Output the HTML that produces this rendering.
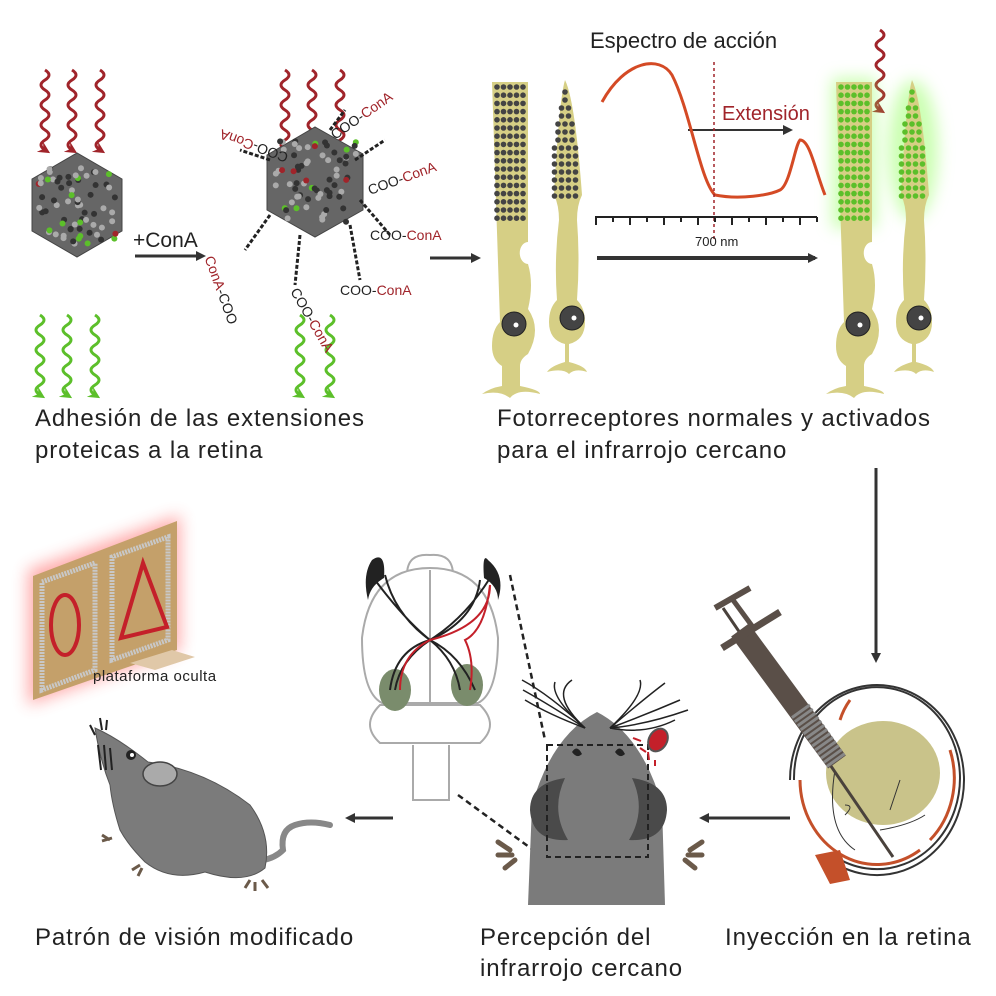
<!DOCTYPE html>
<html><head><meta charset="utf-8"><style>
body{margin:0;background:#fff}
svg{display:block}
text{font-family:"Liberation Sans",sans-serif}
.big{font-size:24px;letter-spacing:0.9px;fill:#222}
</style></head><body>
<svg id="s" width="996" height="996" viewBox="0 0 996 996" xmlns="http://www.w3.org/2000/svg">
<defs>
<marker id="ah" markerWidth="10" markerHeight="10" refX="7" refY="5" orient="auto" markerUnits="userSpaceOnUse"><path d="M0,0 L10,5 L0,10 Z" fill="#333"/></marker>
<marker id="rh" markerWidth="12" markerHeight="12" refX="6" refY="6" orient="auto" markerUnits="userSpaceOnUse"><path d="M0,0 L12,6 L0,12 L4,6Z" fill="#a0242a"/></marker>
<marker id="gh" markerWidth="12" markerHeight="12" refX="6" refY="6" orient="auto" markerUnits="userSpaceOnUse"><path d="M0,0 L12,6 L0,12 L4,6Z" fill="#5cbf2a"/></marker>
<filter id="glow" x="-50%" y="-50%" width="200%" height="200%"><feGaussianBlur stdDeviation="8"/></filter>
</defs>
<g id="g"></g>
<text x="590" y="48" font-size="22" fill="#222">Espectro de acción</text>
<text x="722" y="120" font-size="20" fill="#a0242a">Extensión</text>
<text x="695" y="246" font-size="13" fill="#222">700 nm</text>
<text x="35" y="426" class="big">Adhesión de las extensiones</text>
<text x="35" y="458" class="big">proteicas a la retina</text>
<text x="497" y="426" class="big">Fotorreceptores normales y activados</text>
<text x="497" y="458" class="big">para el infrarrojo cercano</text>
<text x="35" y="945" class="big">Patrón de visión modificado</text>
<text x="480" y="945" class="big">Percepción del</text>
<text x="480" y="976" class="big">infrarrojo cercano</text>
<text x="725" y="945" class="big">Inyección en la retina</text>
<text x="133" y="247" font-size="21" fill="#222">+ConA</text>
<text x="370" y="240" font-size="14" fill="#a0242a"><tspan fill="#222">COO-</tspan>ConA</text>
<text x="370" y="195" font-size="14" fill="#a0242a" transform="rotate(-20 370 195)"><tspan fill="#222">COO-</tspan>ConA</text>
<text x="340" y="295" font-size="14" fill="#a0242a"><tspan fill="#222">COO-</tspan>ConA</text>
<text x="335" y="140" font-size="14" fill="#a0242a" transform="rotate(-35 335 140)"><tspan fill="#222">COO-</tspan>ConA</text>
<text x="212" y="160" font-size="14" fill="#a0242a" transform="rotate(200 250 150)"><tspan fill="#222">COO-</tspan>ConA</text>
<text x="210" y="290" font-size="14" fill="#a0242a" transform="rotate(70 230 270)">ConA<tspan fill="#222">-COO</tspan></text>
<text x="285" y="300" font-size="14" fill="#a0242a" transform="rotate(60 295 300)"><tspan fill="#222">COO-</tspan>ConA</text>
</svg>
<script>
const g=document.getElementById('g');let h='';
function wave(x,y1,y2,col,m){let d=`M${x},${y1}`;for(let y=y1;y<y2;y+=20){d+=` q8,5 0,10 q-8,5 0,10`;}h+=`<path d="${d}" fill="none" stroke="${col}" stroke-width="3" marker-end="url(#${m})"/>`;}
[45,72,100].forEach(x=>{wave(x,70,145,'#a0242a','rh');wave(x-5,315,385,'#5cbf2a','gh');});
[285,312,340].forEach(x=>wave(x,70,145,'#a0242a','rh'));
[300,330].forEach(x=>wave(x,315,385,'#5cbf2a','gh'));
wave(880,30,100,'#a0242a','rh');
function np(cx,cy,r){let p=[];for(let i=0;i<6;i++){let a=Math.PI/3*i+Math.PI/6;p.push((cx+r*Math.cos(a)).toFixed(0)+','+(cy+r*Math.sin(a)).toFixed(0));}
h+=`<polygon points="${p.join(' ')}" fill="#666" stroke="#444"/>`;
for(let i=0;i<70;i++){let x=cx+(Math.random()-.5)*r*1.5,y=cy+(Math.random()-.5)*r*1.5;let c=Math.random()<.1?'#5cbf2a':Math.random()<.05?'#a0242a':(Math.random()<.5?'#aaa':'#333');h+=`<circle cx="${x}" cy="${y}" r="3" fill="${c}"/>`;}}
np(77,205,52);np(315,182,55);
[[360,200,390,235],[355,160,385,140],[350,225,360,280],[330,130,345,110],[270,160,240,150],[270,215,245,250],[300,235,295,285]].forEach(a=>h+=`<line x1="${a[0]}" y1="${a[1]}" x2="${a[2]}" y2="${a[3]}" stroke="#222" stroke-width="3" stroke-dasharray="4 2"/>`);
function arr(x1,y1,x2,y2,w){h+=`<line x1="${x1}" y1="${y1}" x2="${x2}" y2="${y2}" stroke="#333" stroke-width="${w||3}" marker-end="url(#ah)"/>`;}
arr(135,256,203,256);arr(430,258,478,258);arr(597,258,815,258,4);arr(876,468,876,660);arr(790,818,702,818);arr(393,818,348,818);arr(688,130,790,130,2);
function rod(x,dot,gl){const c='#d6cf85';
if(gl)h+=`<rect x="${x-4}" y="78" width="44" height="150" fill="#9f6" opacity=".5" filter="url(#glow)"/>`;
h+=`<path d="M${x},82 h36 v160 a6,8 0 0 0 0,22 q6,20 0,45 q14,20 0,45 q-8,5 -8,12 v20 q20,4 20,8 q-22,-6 -30,4 q-10,-8 -28,-4 q8,-6 20,-8 v-20 q-10,-6 -10,-20 q0,-16 8,-24 z" fill="${c}"/>`;
for(let r=0;r<17;r++)for(let k=0;k<5;k++)h+=`<circle cx="${x+5+k*6.5}" cy="${87+r*8.2}" r="2.8" fill="${dot}"/>`;
h+=`<circle cx="${x+22}" cy="324" r="12" fill="#444" stroke="#222"/><circle cx="${x+24}" cy="325" r="2.5" fill="#fff"/>`;}
function cone(x,dot,gl){const c='#d6cf85';
if(gl)h+=`<ellipse cx="${x+18}" cy="150" rx="25" ry="70" fill="#9f6" opacity=".5" filter="url(#glow)"/>`;
h+=`<path d="M${x+17},80 q10,20 17,115 q-5,10 -5,25 q3,40 0,80 q8,8 8,22 q0,18 -16,22 v18 q16,4 18,10 q-12,-4 -18,2 q-6,-6 -22,-2 q4,-6 18,-10 v-18 q-16,-4 -16,-22 q0,-14 8,-22 q-3,-40 2,-80 q0,-15 -5,-25 q5,-95 11,-115z" fill="${c}"/>`;
for(let r=0;r<14;r++){let n=r<2?1:r<4?2:r<7?3:4;for(let k=0;k<n;k++)h+=`<circle cx="${x+17+(k-(n-1)/2)*7}" cy="${92+r*8}" r="2.8" fill="${dot}"/>`;}
h+=`<circle cx="${x+24}" cy="318" r="12" fill="#444" stroke="#222"/><circle cx="${x+26}" cy="318" r="2.5" fill="#fff"/>`;}
rod(492,'#444');cone(548,'#444');rod(836,'#5cbf2a',1);cone(895,'#5cbf2a',1);
h+=`<path d="M602,102 C625,60 660,55 672,75 C690,110 700,180 715,195 C740,200 770,195 780,190 C790,185 795,145 800,140 C810,140 815,170 825,195" fill="none" stroke="#d44a25" stroke-width="3"/>`;
h+=`<line x1="714" y1="62" x2="714" y2="240" stroke="#a0242a" stroke-width="1.5" stroke-dasharray="3 3"/>`;
h+=`<line x1="595" y1="217" x2="817" y2="217" stroke="#222" stroke-width="2"/>`;
for(let i=0;i<14;i++)h+=`<line x1="${596+i*17}" y1="217" x2="${596+i*17}" y2="${i%2?222:225}" stroke="#222" stroke-width="2"/>`;
// board
h+=`<polygon points="28,705 28,570 180,515 180,650" fill="#f44" opacity=".45" filter="url(#glow)"/>`;
h+=`<polygon points="33,700 33,576 177,521 177,650" fill="#c4a06a"/>`;
h+=`<polygon points="42,690 42,582 95,563 95,670" fill="none" stroke="#c8c8c8" stroke-width="5" stroke-dasharray="2 1"/>`;
h+=`<polygon points="112,660 112,557 168,537 168,640" fill="none" stroke="#c8c8c8" stroke-width="5" stroke-dasharray="2 1"/>`;
h+=`<polygon points="130,663 172,650 195,657 155,670" fill="#e0c8a8"/>`;
h+=`<ellipse cx="65" cy="625" rx="14" ry="30" fill="none" stroke="#c4202a" stroke-width="4"/>`;
h+=`<polygon points="143,563 167,627 121,638" fill="none" stroke="#c4202a" stroke-width="4"/>`;
h+=`<text x="93" y="681" font-size="15" fill="#222" letter-spacing=".5">plataforma oculta</text>`;
// mouse
h+=`<path d="M330,825 q-20,-5 -35,0 q-15,5 -12,25 q-8,8 -20,10" fill="none" stroke="#888" stroke-width="6" stroke-linecap="round"/>`;
h+=`<path d="M95,728 Q118,738 148,762 Q205,770 250,805 Q272,835 265,868 Q245,885 205,872 Q170,882 145,862 Q128,845 120,830 Q112,805 110,785 Q100,760 95,728 Z" fill="#7b7b7b" stroke="#555"/>`;
h+=`<ellipse cx="160" cy="774" rx="17" ry="12" fill="#aaa" stroke="#444" stroke-width="1.5"/>`;
h+=`<circle cx="131" cy="755" r="5" fill="#222"/><circle cx="132" cy="755" r="2" fill="#fff"/>`;
h+=`<path d="M90,725 l5,10 M100,718 l2,12 M107,720 l-1,10 M98,745 l3,25 M104,745 l2,25 M110,748 l2,22" stroke="#222" stroke-width="2"/>`;
h+=`<path d="M110,840 l-8,-5 M112,838 l-10,3 M140,865 l-8,5 M142,868 l-4,8 M250,880 l-5,8 M255,882 l0,9 M262,880 l6,8" stroke="#6b5a4a" stroke-width="3"/>`;
// brain
h+=`<path d="M407,575 q0,-22 23,-20 q23,-2 23,20 z" fill="#fff" stroke="#aaa" stroke-width="2"/>`;
h+=`<path d="M430,568 q-60,0 -68,70 q0,55 20,65 h96 q20,-10 20,-65 q-8,-70 -68,-70z" fill="#fff" stroke="#aaa" stroke-width="2"/>`;
h+=`<path d="M380,705 q-20,20 0,38 h100 q20,-18 0,-38z" fill="#fff" stroke="#aaa" stroke-width="2"/>`;
h+=`<path d="M413,745 v55 h36 v-55" fill="#fff" stroke="#aaa" stroke-width="2"/>`;
h+=`<line x1="430" y1="570" x2="430" y2="703" stroke="#aaa" stroke-width="2"/>`;
h+=`<ellipse cx="395" cy="690" rx="16" ry="21" fill="#7a8c6c"/><ellipse cx="467" cy="685" rx="16" ry="21" fill="#7a8c6c"/>`;
h+=`<path d="M375,580 q30,40 55,60 q25,20 30,50 M385,575 q10,40 45,65 q-35,10 -40,50 M490,578 q-25,40 -60,62 q-30,20 -35,50 M480,580 q-5,40 -50,60 q30,15 45,50" fill="none" stroke="#222" stroke-width="2"/>`;
h+=`<path d="M490,585 q0,40 -60,55 q-30,15 -30,50 M490,585 q-5,45 -25,55 q10,20 5,50" fill="none" stroke="#c4202a" stroke-width="2"/>`;
h+=`<path d="M372,560 q14,-10 12,18 q-14,8 -16,22 q-6,-25 4,-40z M488,560 q-6,-8 -4,18 q14,8 14,22 q8,-25 -10,-40z" fill="#222"/>`;
h+=`<line x1="510" y1="575" x2="545" y2="740" stroke="#222" stroke-width="2.5" stroke-dasharray="6 4"/><line x1="458" y1="795" x2="540" y2="855" stroke="#222" stroke-width="2.5" stroke-dasharray="6 4"/>`;
// mouse head
h+=`<path d="M510,850 l-12,-8 M512,855 l-14,0 M515,860 l-10,8 M690,850 l12,-8 M688,855 l14,0 M685,860 l10,8" stroke="#6b5a4a" stroke-width="5" stroke-linecap="round"/>`;
h+=`<path d="M528,905 l4,-100 q20,-70 65,-93 q45,23 65,93 l3,100z" fill="#7b7b7b"/>`;
h+=`<path d="M565,778 q-35,5 -35,32 q2,32 38,30 q-18,-30 -3,-62z M632,778 q35,5 35,32 q-2,32 -38,30 q18,-30 3,-62z" fill="#4a4a4a"/>`;
h+=`<rect x="547" y="745" width="101" height="112" fill="none" stroke="#222" stroke-width="2" stroke-dasharray="6 4"/>`;
h+=`<path d="M572,752 q5,-8 10,2 q-5,5 -10,-2zM615,752 q5,-8 10,2 q-5,5 -10,-2z" fill="#222"/>`;
[[522,680],[523,690],[525,700],[555,682],[572,680]].forEach(p=>h+=`<path d="M585,728 Q550,${p[1]+15} ${p[0]},${p[1]}" fill="none" stroke="#222" stroke-width="1.5"/>`);
[[640,680],[665,683],[680,700],[675,720],[688,710]].forEach(p=>h+=`<path d="M610,728 Q645,${p[1]+15} ${p[0]},${p[1]}" fill="none" stroke="#222" stroke-width="1.5"/>`);
h+=`<ellipse cx="658" cy="740" rx="9" ry="12" fill="#c4202a" stroke="#555" stroke-width="2" transform="rotate(30 658 740)"/>`;
h+=`<path d="M633,738 l8,3 M640,748 l6,4 M648,752 l1,8 M655,760 l0,6" stroke="#c4202a" stroke-width="2"/>`;
// eye
h+=`<path d="M790,780 a87,95 0 1 1 40,80 M794,780 a83,91 0 1 1 40,76" fill="none" stroke="#333" stroke-width="2"/>`;
h+=`<path d="M800,780 a77,85 0 0 0 120,70 M840,720 a70,70 0 0 1 10,-20 M950,750 a77,85 0 0 1 -20,90" fill="none" stroke="#c4502a" stroke-width="3"/>`;
h+=`<ellipse cx="883" cy="773" rx="57" ry="52" fill="#c9c38a"/>`;
h+=`<path d="M815,855 l25,-5 l10,30 l-20,4z" fill="#c4502a"/>`;
h+=`<path d="M835,770 q-10,60 20,80 M845,805 q10,0 0,10 M890,810 l10,-30 M880,830 q30,-5 45,-15" fill="none" stroke="#333" stroke-width="1"/>`;
h+=`<line x1="723" y1="608" x2="893" y2="857" stroke="#4a423c" stroke-width="3"/>`;
h+=`<line x1="740" y1="630" x2="837" y2="762" stroke="#5a4f48" stroke-width="22"/>`;
h+=`<line x1="800" y1="710" x2="837" y2="762" stroke="#888" stroke-width="22" stroke-dasharray="3 2"/>`;
h+=`<line x1="715" y1="608" x2="750" y2="588" stroke="#5a4f48" stroke-width="6"/><line x1="722" y1="648" x2="780" y2="612" stroke="#5a4f48" stroke-width="7"/><line x1="733" y1="600" x2="755" y2="630" stroke="#5a4f48" stroke-width="5"/>`;
g.innerHTML=h;
</script>
</body></html>
